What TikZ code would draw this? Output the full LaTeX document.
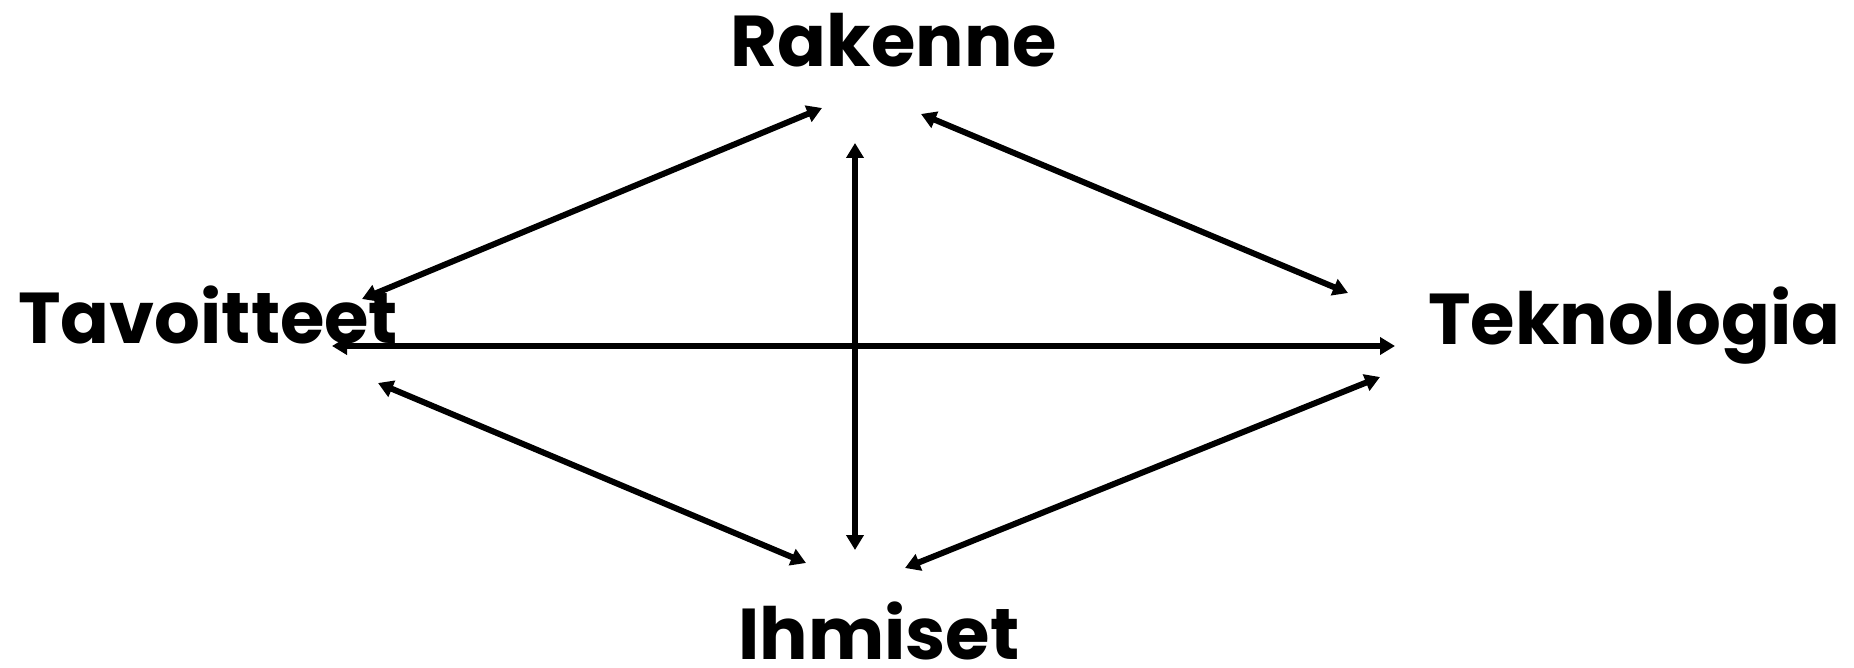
\documentclass[tikz,border=0pt]{standalone}
\usepackage{fontspec}
\setmainfont{Poppins}[BoldFont=* Bold]
\usetikzlibrary{arrows.meta}
\begin{document}
\begin{tikzpicture}[x=1pt,y=-1pt,
  lbl/.style={inner sep=0pt,text depth=0pt,font=\fontsize{72}{80}\selectfont\bfseries},
  conn/.style={line width=6pt,{Triangle[length=15pt,width=17pt]}-{Triangle[length=15pt,width=17pt]}}]
\useasboundingbox (0,0) rectangle (1854,668);
\node[lbl,anchor=base] (rak) at (894,67) {Rakenne};
\node[lbl,anchor=base west] (tav) at (18,343) {Tavoitteet};
\node[lbl,anchor=base west] (tek) at (1428,344) {Teknologia};
\node[lbl,anchor=base] (ihm) at (879,659) {Ihmiset};
\coordinate (tr1) at (362,299); \coordinate (tr2) at (822,108);
\coordinate (rk1) at (921,114); \coordinate (rk2) at (1348,293);
\coordinate (v1) at (855,143); \coordinate (v2) at (855,550);
\coordinate (h1) at (332,346); \coordinate (h2) at (1395,346);
\coordinate (ti1) at (378,383); \coordinate (ti2) at (806,563);
\coordinate (ki1) at (1380,377); \coordinate (ki2) at (905,568);
\draw[conn] (tr1) -- (tr2);
\draw[conn] (rk1) -- (rk2);
\draw[conn] (v1) -- (v2);
\draw[conn] (h1) -- (h2);
\draw[conn] (ti1) -- (ti2);
\draw[conn] (ki1) -- (ki2);
\end{tikzpicture}
\end{document}
